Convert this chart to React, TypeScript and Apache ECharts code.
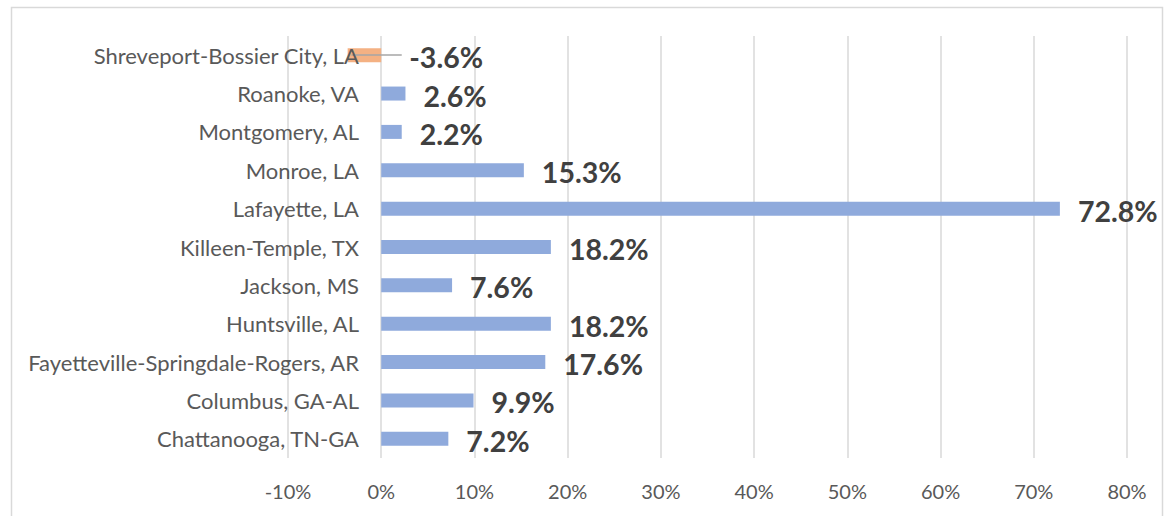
import React, { useEffect, useRef } from "react";
import * as echarts from "echarts";

const categories = [
  "Chattanooga, TN-GA",
  "Columbus, GA-AL",
  "Fayetteville-Springdale-Rogers, AR",
  "Huntsville, AL",
  "Jackson, MS",
  "Killeen-Temple, TX",
  "Lafayette, LA",
  "Monroe, LA",
  "Montgomery, AL",
  "Roanoke, VA",
  "Shreveport-Bossier City, LA",
];
const growth = [7.2, 9.9, 17.6, 18.2, 7.6, 18.2, 72.8, 15.3, 2.2, 2.6, -3.6];
const xTicks = [-10, 0, 10, 20, 30, 40, 50, 60, 70, 80];

const BLUE = "#8FAADC";
const ORANGE = "#F4B183";
const FONT = "Lato";

export default function App() {
  const ref = useRef<HTMLDivElement>(null);
  useEffect(() => {
    if (!ref.current) return;
    const chart = echarts.init(ref.current, null, { renderer: "svg" });
    const neg = categories[growth.findIndex((v) => v < 0)];
    chart.setOption({
      animation: false,
      graphic: [
        {
          type: "rect",
          shape: { x: 11.5, y: 7.5, width: 1151, height: 530 },
          style: { fill: "none", stroke: "#d9d9d9", lineWidth: 1.5 },
          silent: true,
        },
      ],
      grid: { left: 288, right: 38, top: 36, bottom: 58, containLabel: false },
      xAxis: {
        type: "value",
        min: xTicks[0],
        max: xTicks[xTicks.length - 1],
        interval: 10,
        axisLine: { show: false },
        axisTick: { show: false },
        splitLine: { show: true, lineStyle: { color: "#d9d9d9", width: 1.5 } },
        axisLabel: {
          formatter: "{value}%",
          color: "#595959",
          fontSize: 20,
          fontFamily: FONT,
          margin: 23,
        },
      },
      yAxis: {
        type: "category",
        data: categories,
        offset: -71,
        z: 5,
        axisLine: { show: false },
        axisTick: { show: false },
        splitLine: { show: false },
        axisLabel: {
          color: "#595959",
          fontSize: 22,
          fontFamily: FONT,
          margin: 0,
        },
      },
      series: [
        {
          type: "bar",
          z: 2,
          data: growth.map((v) => ({
            value: v,
            itemStyle: { color: v < 0 ? ORANGE : BLUE },
            label: v < 0 ? { position: "right", distance: 28 } : undefined,
          })),
          barWidth: 14,
          label: {
            show: true,
            position: "right",
            distance: 18,
            formatter: (p: any) => p.value.toFixed(1) + "%",
            fontSize: 28.5,
            fontWeight: "bold",
            fontFamily: FONT,
            color: "#404040",
            offset: [0, 2],
          },
          markLine: {
            silent: true,
            symbol: "none",
            label: { show: false },
            lineStyle: { color: "#a6a6a6", width: 1.5, type: "solid" },
            data: [
              [
                { coord: [-3.2, neg] },
                { coord: [2.2, neg] },
              ],
            ],
          },
        },
      ],
    });
    return () => chart.dispose();
  }, []);
  return (
    <div
      ref={ref}
      style={{ position: "fixed", left: 0, top: 0, width: 1165, height: 516, background: "#fff" }}
    />
  );
}
